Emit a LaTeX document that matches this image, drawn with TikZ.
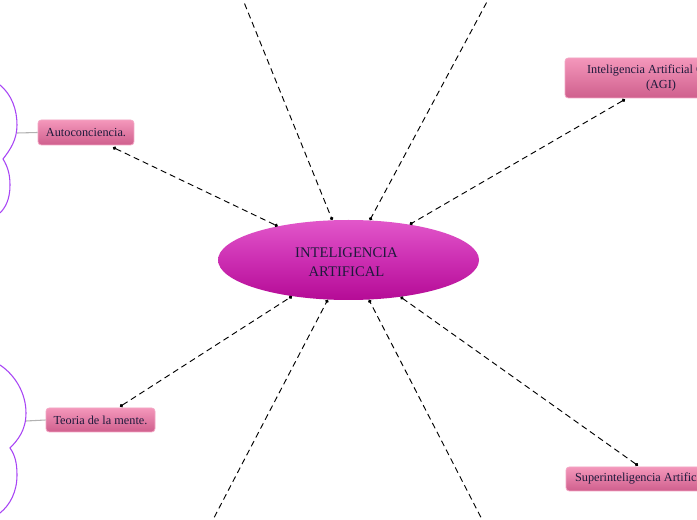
\documentclass[tikz,border=0pt]{standalone}
\usepackage{fontspec}
\setmainfont{Liberation Serif}
\usetikzlibrary{shapes.geometric,arrows.meta,calc}
\definecolor{txt}{HTML}{1E1A3C}
\definecolor{boxtop}{HTML}{F497BB}
\definecolor{boxbot}{HTML}{CF5F8D}
\definecolor{boxline}{HTML}{F3A6C4}
\definecolor{elltop}{HTML}{E257CA}
\definecolor{ellmid}{HTML}{CC2EB2}
\definecolor{ellbot}{HTML}{B50B96}
\definecolor{brace}{HTML}{A845F5}
\tikzset{
  x=0.75pt, y=-0.75pt,
  pinkbox/.style={draw=boxline, line width=0.6pt, rounded corners=2.5pt,
    top color=boxtop, bottom color=boxbot, text=txt, inner sep=0pt,
    font=\fontsize{9.2}{11}\selectfont, align=center},
  mainell/.style={ellipse, draw=none, top color=elltop, bottom color=ellbot,
    middle color=ellmid, text=txt, inner sep=0pt, align=center,
    minimum width=195.75pt, minimum height=60pt,
    font=\fontsize{11}{14.5}\selectfont},
  conn/.style={dashed, dash pattern=on 4.5pt off 3pt, line width=0.7pt, black,
    {Circle[length=2.6pt]}-{Circle[length=2.6pt]}},
  bracecurve/.style={brace, line width=0.8pt},
  stub/.style={draw=gray!60, line width=0.8pt}
}
\begin{document}
\begin{tikzpicture}
\clip (0,0) rectangle (697,520);
\fill[white] (0,0) rectangle (697,520);

% main ellipse
\node[mainell] (ell) at (348.5,260) {};
\node[text=txt, font=\fontsize{11}{14.5}\selectfont, align=center, inner sep=0pt] (elltxt) at (346.5,262) {INTELIGENCIA\\ARTIFICAL};

% boxes
\node[pinkbox, minimum width=72pt, minimum height=18.75pt] (auto) at (86,132.5) {Autoconciencia.};
\node[pinkbox, minimum width=81.75pt, minimum height=18pt] (teoria) at (100.5,420) {Teoria de la mente.};
\node[pinkbox, minimum width=144pt, minimum height=30pt] (agi) at (661,78) {Inteligencia Artificial General\\(AGI)};
\node[pinkbox, minimum width=114pt, minimum height=18pt] (super) at (642,479) {Superinteligencia Artificial};

% off-picture ends
\coordinate (tl) at (237,-15);
\coordinate (tr) at (496,-15);
\coordinate (bl) at (205,535);
\coordinate (br) at (490,535);

% connector end points on boxes
\coordinate (autoE) at ($(auto.south)+(27,2)$);
\coordinate (teoE) at ($(teoria.north)+(19.5,-1)$);
\coordinate (agiE) at ($(agi.south)+(-36,1)$);
\coordinate (supE) at ($(super.north)+(-4,-1)$);

% connectors
\draw[conn] (autoE) -- (ell);
\draw[conn] (teoE) -- (ell);
\draw[conn] (agiE) -- (ell);
\draw[conn] (supE) -- (ell);
\draw[conn, {Circle[length=0pt]}-{Circle[length=2.6pt]}] (tl) -- (ell);
\draw[conn, {Circle[length=0pt]}-{Circle[length=2.6pt]}] (tr) -- (ell);
\draw[conn, {Circle[length=0pt]}-{Circle[length=2.6pt]}] (bl) -- (ell);
\draw[conn, {Circle[length=0pt]}-{Circle[length=2.6pt]}] (br) -- (ell);

% braces
\coordinate (b1) at (17,133);
\coordinate (b2) at (26,421);
\draw[stub] (b1) -- (auto.west);
\draw[stub] (b2) -- (teoria.west);
\draw[bracecurve] (0,85) .. controls (12,95) and (17,110) .. (17,125)
  .. controls (17,140) and (10,150) .. (3,159)
  .. controls (8,167) and (10,175) .. (10,185)
  .. controls (10,200) and (5,208) .. (0,213);
\draw[bracecurve] (0,365) .. controls (15,375) and (26,393) .. (26,413)
  .. controls (26,430) and (18,440) .. (10,448)
  .. controls (15,455) and (17,463) .. (17,475)
  .. controls (17,492) and (10,505) .. (0,513);
\end{tikzpicture}
\end{document}
